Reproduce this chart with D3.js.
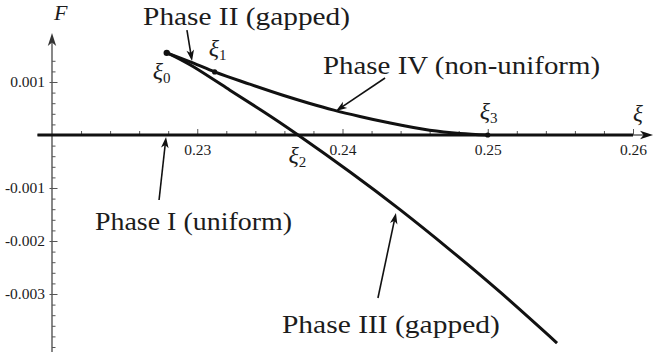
<!DOCTYPE html>
<html>
<head>
<meta charset="utf-8">
<script src="https://cdn.jsdelivr.net/npm/d3@7"></script>
<style>
  html, body { margin: 0; padding: 0; background: #fff; }
  svg { display: block; font-family: 'Liberation Serif', 'DejaVu Serif', 'Times New Roman', Times, serif; }
  svg text { fill: #1c1c1c; }
</style>
</head>
<body>
<svg id="chart" width="654" height="352"></svg>
<script>
// Phase I (uniform): F = 0 along the whole window
const uniformXi = [0.219, 0.26];
const uniformF = [0, 0];

// Phase II from ξ0 to ξ1, continuing as Phase IV (non-uniform) down to ξ3
const upperXi = [0.2279, 0.2297, 0.2312, 0.2336, 0.2359, 0.2377, 0.2394, 0.2412, 0.2432, 0.2460, 0.2481, 0.2500];
const upperF  = [0.00155, 0.00136, 0.00119, 0.00096, 0.00075, 0.00060, 0.00047, 0.00035, 0.00023, 0.00009, 0.00003, 0];

// Gapped branch from ξ0 through ξ2 (Phase III)
const gappedXi = [0.22793, 0.22971, 0.23225, 0.23446, 0.23694, 0.24052, 0.24396, 0.24740, 0.25084, 0.25477];
const gappedF  = [0.00155, 0.001292, 0.000845, 0.000457, 0, -0.000698, -0.001409, -0.002166, -0.002962, -0.003925];

// Marked points ξ0 … ξ3
const pointIndex = ["0", "1", "2", "3"];
const pointXi = [0.2279, 0.2312, 0.2369, 0.2500];
const pointF  = [0.00155, 0.00119, 0, 0];
const pointDot = [true, true, false, true];

// Ticks
const xMajorTicks = [0.23, 0.24, 0.25, 0.26];
const xTickLabels = ["0.23", "0.24", "0.25", "0.26"];
const xMinorTicks = [0.222, 0.224, 0.226, 0.228, 0.232, 0.234, 0.236, 0.238,
                     0.242, 0.244, 0.246, 0.248, 0.252, 0.254, 0.256, 0.258];
const yMajorTicks = [-0.003, -0.002, -0.001, 0.001];
const yTickLabels = ["-0.003", "-0.002", "-0.001", "0.001"];
const yMinorTicks = [0.0014, 0.0012, 0.0008, 0.0006, 0.0004, 0.0002,
                     -0.0002, -0.0004, -0.0006, -0.0008, -0.0012, -0.0014, -0.0016, -0.0018,
                     -0.0022, -0.0024, -0.0026, -0.0028, -0.0032, -0.0034, -0.0036, -0.0038, -0.004];

// Phase annotations: label anchor, arrow tail and arrow tip, in (ξ, F)
const phaseNames = ["Phase II (gapped)", "Phase IV (non-uniform)", "Phase I (uniform)", "Phase III (gapped)"];
const phaseLabelXi = [0.22627, 0.23866, 0.22296, 0.23583];
const phaseLabelF  = [0.002075, 0.001151, -0.001792, -0.003736];
const phaseTailXi  = [0.22929, 0.24293, 0.22737, 0.24244];
const phaseTailF   = [0.001981, 0.001075, -0.001226, -0.003075];
const phaseTipXi   = [0.22964, 0.23955, 0.22785, 0.24368];
const phaseTipF    = [0.001396, 0.000453, -0.000038, -0.001472];

const svg = d3.select("#chart");

const x = d3.scaleLinear().domain([0.22, 0.26]).range([52, 633]);
const y = d3.scaleLinear().domain([0, 0.001]).range([135, 82]);

const ink = "#111";
const axisGray = "#555";

// filled arrowhead with a notched back
function arrowHead(tx, ty, ux, uy, L, W, N) {
  const nx = -uy, ny = ux;
  const bx = tx - L * ux, by = ty - L * uy;
  return `M${tx},${ty}L${bx + W * nx},${by + W * ny}L${tx - (L - N) * ux},${ty - (L - N) * uy}L${bx - W * nx},${by - W * ny}Z`;
}

// ---- axes ----
const x0 = x(0.219), xTip = x(0.26138);
svg.append("line")
  .attr("x1", x0).attr("x2", xTip - 8)
  .attr("y1", y(0)).attr("y2", y(0))
  .attr("stroke", ink).attr("stroke-width", 1.2);
svg.append("path").attr("d", arrowHead(xTip, y(0), 1, 0, 13, 4.2, 3.5)).attr("fill", ink);

const yTop = y(0.001925);
svg.append("line")
  .attr("x1", x(0.22)).attr("x2", x(0.22))
  .attr("y1", 352).attr("y2", yTop + 8)
  .attr("stroke", axisGray).attr("stroke-width", 1.4);
svg.append("path").attr("d", arrowHead(x(0.22), yTop, 0, -1, 13, 4.2, 3.5)).attr("fill", "#333");

// x ticks (pointing up) with labels below
const gx = svg.append("g").attr("transform", `translate(0,${y(0)})`);
gx.call(d3.axisBottom(x).tickValues(xMinorTicks).tickSizeInner(-4).tickSizeOuter(0).tickFormat(""));
gx.call(g => g.select(".domain").remove());
const gxM = svg.append("g").attr("transform", `translate(0,${y(0)})`);
gxM.call(d3.axisBottom(x).tickValues(xMajorTicks).tickSizeInner(-6).tickSizeOuter(0)
  .tickPadding(9).tickFormat((d, i) => xTickLabels[i]));
gxM.call(g => g.select(".domain").remove());

// y ticks (pointing right) with labels on the left
const gy = svg.append("g").attr("transform", `translate(${x(0.22)},0)`);
gy.call(d3.axisLeft(y).tickValues(yMinorTicks).tickSizeInner(-3.5).tickSizeOuter(0).tickFormat(""));
gy.call(g => g.select(".domain").remove());
const gyM = svg.append("g").attr("transform", `translate(${x(0.22)},0)`);
gyM.call(d3.axisLeft(y).tickValues(yMajorTicks).tickSizeInner(-5.5).tickSizeOuter(0)
  .tickPadding(7).tickFormat((d, i) => yTickLabels[i]));
gyM.call(g => g.select(".domain").remove());
gyM.selectAll(".tick line").attr("x1", -2.5);

// d3.axis sets its own font attributes on the group; drop them so the svg font applies
[gx, gxM, gy, gyM].forEach(g => g.attr("font-family", null).attr("font-size", 15.5));
svg.selectAll("g.tick line").attr("stroke", axisGray).attr("stroke-width", 1);
svg.selectAll("g.tick text").attr("fill", "#222");

// axis names
svg.append("text").attr("x", x(0.22) + 2).attr("y", 20)
  .attr("font-size", 22).attr("font-style", "italic").text("F");
svg.append("text").attr("x", x(0.26)).attr("y", y(0) - 14)
  .attr("font-size", 23).attr("font-style", "italic").text("ξ");

// ---- curves ----
const lineMono = d3.line().x(d => x(d[0])).y(d => y(d[1])).curve(d3.curveMonotoneX);
const lineSmooth = d3.line().x(d => x(d[0])).y(d => y(d[1])).curve(d3.curveNatural);
const curveStyle = sel => sel.attr("fill", "none").attr("stroke", ink)
  .attr("stroke-width", 3).attr("stroke-linejoin", "round").attr("stroke-linecap", "butt");

svg.append("path").datum(d3.zip(uniformXi, uniformF)).attr("d", lineMono).call(curveStyle).attr("stroke-width", 3.2);
svg.append("path").datum(d3.zip(gappedXi, gappedF)).attr("d", lineSmooth).call(curveStyle);
svg.append("path").datum(d3.zip(upperXi, upperF)).attr("d", lineMono).call(curveStyle);

// marked points
const pts = pointIndex.map((k, i) => ({ k, xi: pointXi[i], f: pointF[i], dot: pointDot[i] }));
svg.selectAll("circle.pt").data(pts.filter(p => p.dot)).join("circle")
  .attr("class", "pt")
  .attr("cx", p => x(p.xi)).attr("cy", p => y(p.f))
  .attr("r", (p, i) => i === 0 ? 3.2 : 2.6).attr("fill", ink);

// ξ labels next to the points
const labelOffset = { "0": [-14, 26], "1": [-6, -16], "2": [-9, 28], "3": [-8, -16] };
pts.forEach(p => {
  const [dx, dy] = labelOffset[p.k];
  const t = svg.append("text")
    .attr("x", x(p.xi) + dx).attr("y", y(p.f) + dy).attr("font-size", 24);
  t.append("tspan").attr("font-style", "italic").text("ξ");
  t.append("tspan").attr("font-size", 15).attr("dy", 4).text(p.k);
});

// ---- phase annotations ----
const phaseWidth = [207, 277, 197, 218];
phaseNames.forEach((name, i) => {
  svg.append("text")
    .attr("x", x(phaseLabelXi[i])).attr("y", y(phaseLabelF[i]))
    .attr("font-size", 26)
    .attr("textLength", phaseWidth[i]).attr("lengthAdjust", "spacingAndGlyphs")
    .text(name);
  const tx = x(phaseTailXi[i]), ty = y(phaseTailF[i]);
  const hx = x(phaseTipXi[i]), hy = y(phaseTipF[i]);
  const len = Math.hypot(hx - tx, hy - ty);
  const ux = (hx - tx) / len, uy = (hy - ty) / len;
  svg.append("line")
    .attr("x1", tx).attr("y1", ty)
    .attr("x2", hx - 6 * ux).attr("y2", hy - 6 * uy)
    .attr("stroke", ink).attr("stroke-width", 1.6);
  svg.append("path").attr("d", arrowHead(hx, hy, ux, uy, 11, 3.8, 3)).attr("fill", ink);
});
</script>
</body>
</html>
